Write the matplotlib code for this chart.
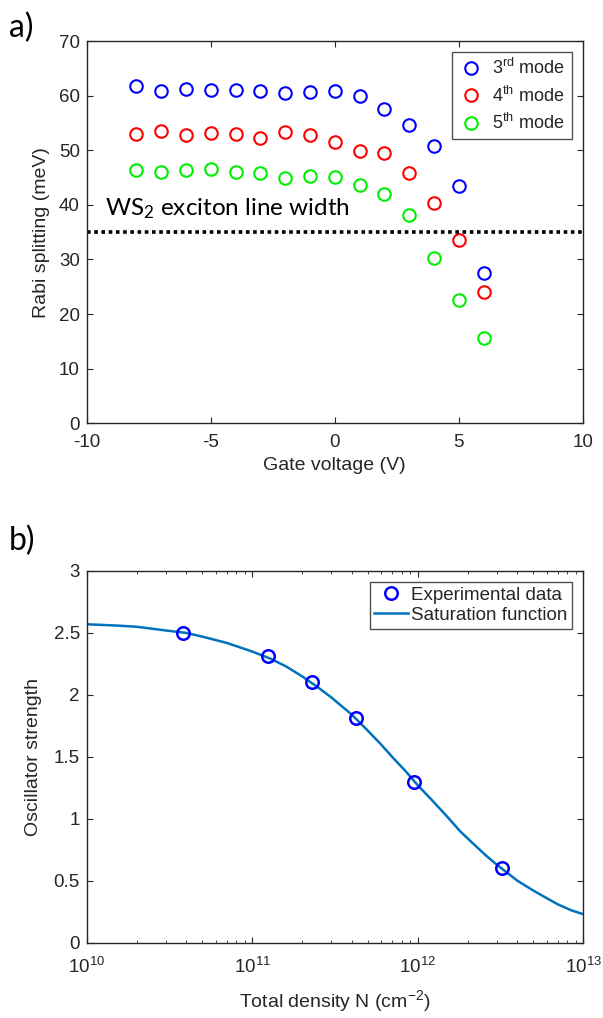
import matplotlib
matplotlib.use("Agg")
import matplotlib.pyplot as plt
from matplotlib.ticker import FormatStrFormatter, LogLocator, NullFormatter

plt.rcParams['font.family'] = ['Liberation Sans', 'DejaVu Sans']
plt.rcParams['mathtext.default'] = 'regular'
plt.rcParams['axes.unicode_minus'] = False

# ---- panel a) data ----
gate_voltage = [-8, -7, -6, -5, -4, -3, -2, -1, 0, 1, 2, 3, 4, 5, 6]
mode3 = [61.8, 60.9, 61.3, 61.1, 61.1, 60.9, 60.5, 60.7, 60.9, 59.9, 57.5, 54.6, 50.8, 43.5, 27.6]
mode4 = [53.0, 53.5, 52.8, 53.1, 52.9, 52.3, 53.3, 52.7, 51.6, 49.8, 49.5, 45.9, 40.3, 33.6, 24.0]
mode5 = [46.4, 46.0, 46.3, 46.5, 46.0, 45.9, 44.9, 45.3, 45.1, 43.6, 42.0, 38.2, 30.2, 22.5, 15.6]
mode_labels = ['3$^{rd}$ mode', '4$^{th}$ mode', '5$^{th}$ mode']
exciton_linewidth = 35.0

# ---- panel b) data ----
density_exp = [3.84e10, 1.24e11, 2.29e11, 4.22e11, 9.55e11, 3.21e12]
strength_exp = [2.50, 2.31, 2.10, 1.81, 1.30, 0.60]
density_fit = [1e10, 1.5e10, 2e10, 3e10, 4e10, 5e10, 7e10, 1e11, 1.3e11, 1.6e11, 2e11, 2.5e11,
               3e11, 4e11, 5e11, 6e11, 7e11, 8.5e11, 1e12, 1.2e12, 1.5e12, 1.8e12, 2.2e12,
               2.6e12, 3e12, 4e12, 5e12, 6e12, 7e12, 8.5e12, 1e13]
strength_fit = [2.57, 2.56, 2.55, 2.52, 2.50, 2.47, 2.42, 2.35, 2.29, 2.23, 2.15, 2.06,
                1.98, 1.84, 1.71, 1.60, 1.50, 1.38, 1.27, 1.16, 1.02, 0.90, 0.79,
                0.70, 0.63, 0.50, 0.42, 0.36, 0.31, 0.26, 0.23]

AX_COLOR = '#262626'


def style_axes(ax):
    for sp in ax.spines.values():
        sp.set_color(AX_COLOR)
        sp.set_linewidth(1.0)
    ax.tick_params(which='both', direction='in', top=True, right=True,
                   colors=AX_COLOR, labelcolor='#262626', labelsize=13.5)
    ax.tick_params(which='major', length=4.5)
    ax.tick_params(which='minor', length=2.5)
    ax.tick_params(axis='x', pad=8)
    ax.tick_params(axis='y', pad=5)


fig = plt.figure(figsize=(6.03, 10.18), dpi=100)

# panel a)
ax1 = fig.add_axes([0.1438, 0.5842, 0.8226, 0.3755])
for vals, col, lab in zip([mode3, mode4, mode5], ['#0000ff', '#ff0000', '#00ee00'], mode_labels):
    ax1.plot(gate_voltage, vals, 'o', mfc='none', mec=col, ms=9, mew=1.5, label=lab)
ax1.axhline(exciton_linewidth, color='black', lw=2.6, dashes=(1, 1))
ax1.text(-9.25, 37.0, 'WS$_2$ exciton line width', fontsize=17.5, family=['Lato', 'DejaVu Sans'],
         ha='left', va='bottom')
ax1.set_xlim(-10, 10)
ax1.set_ylim(0, 70)
ax1.set_xticks([-10, -5, 0, 5, 10])
ax1.set_yticks(range(0, 71, 10))
ax1.set_xlabel('Gate voltage (V)', fontsize=14, color='#262626', labelpad=4)
ax1.set_ylabel('Rabi splitting (meV)', fontsize=14, color='#262626', labelpad=6)
style_axes(ax1)
leg1 = ax1.legend(loc='upper right', fontsize=13, frameon=True, fancybox=False,
                  edgecolor='#262626', borderaxespad=0.6, handlelength=1.4,
                  handletextpad=0.5, labelspacing=0.4, borderpad=0.35)
leg1.get_frame().set_linewidth(1.0)
for t in leg1.get_texts():
    t.set_color('#262626')

# panel b)
ax2 = fig.add_axes([0.1438, 0.0740, 0.8235, 0.3651])
ax2.plot(density_exp, strength_exp, 'o', mfc='none', mec='#0000ff', ms=9, mew=1.8,
         label='Experimental data', zorder=3)
ax2.plot(density_fit, strength_fit, '-', color='#0072bd', lw=1.8, label='Saturation function')
ax2.set_xscale('log')
ax2.set_xlim(1e10, 1e13)
ax2.set_ylim(0, 3)
ax2.set_yticks([0, 0.5, 1, 1.5, 2, 2.5, 3])
ax2.yaxis.set_major_formatter(FormatStrFormatter('%g'))
ax2.xaxis.set_major_locator(LogLocator(base=10, numticks=10))
ax2.xaxis.set_minor_locator(LogLocator(base=10, subs=range(2, 10), numticks=20))
ax2.xaxis.set_minor_formatter(NullFormatter())
ax2.tick_params(axis='x', pad=10)
ax2.set_xlabel('Total density N (cm$^{-2}$)', fontsize=14, color='#262626', labelpad=8)
ax2.set_ylabel('Oscillator strength', fontsize=14, color='#262626', labelpad=8)
style_axes(ax2)
ax2.tick_params(axis='x', pad=10)
leg2 = ax2.legend(loc='upper right', fontsize=13.5, frameon=True, fancybox=False,
                  edgecolor='#262626', borderaxespad=0.6, handlelength=1.8,
                  handletextpad=0.15, labelspacing=0.15, borderpad=0.25)
leg2.get_frame().set_linewidth(1.0)
for t in leg2.get_texts():
    t.set_color('#262626')

# panel letters
fig.text(0.015, 0.973, 'a)', fontsize=23, family=['Lato', 'DejaVu Sans'], va='center', ha='left')
fig.text(0.015, 0.469, 'b)', fontsize=23, family=['Lato', 'DejaVu Sans'], va='center', ha='left')

fig.savefig('out.png', dpi=100)
